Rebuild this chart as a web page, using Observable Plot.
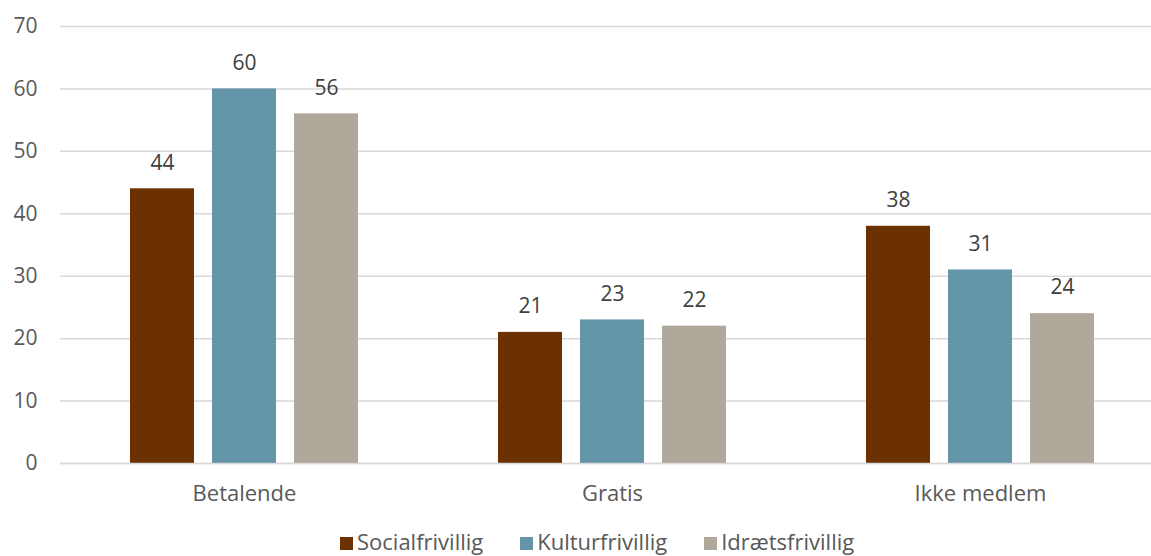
<!DOCTYPE html>
<html>
<head>
<meta charset="utf-8">
<script src="https://cdn.jsdelivr.net/npm/d3@7"></script>
<script src="https://cdn.jsdelivr.net/npm/@observablehq/plot@0.6"></script>
<style>
  html, body { margin: 0; padding: 0; background: #fff; overflow: hidden; width: 1151px; height: 556px; }
  #chart { position: absolute; left: 0; top: 0; width: 1165px; }
  #chart svg { max-width: none !important; }
  #legend { position: absolute; left: 340px; top: 528px; display: flex; gap: 37px; font-family: "Open Sans", sans-serif; font-size: 22px; color: #595959; line-height: 26px; }
  #legend .item { display: flex; align-items: center; gap: 4px; }
  #legend .sw { width: 13px; height: 13px; display: inline-block; margin-top: 5px; }
</style>
</head>
<body>
<div id="chart"></div>
<div id="legend"></div>
<script>
const categories = ["Betalende", "Gratis", "Ikke medlem"];
const series = ["Socialfrivillig", "Kulturfrivillig", "Idrætsfrivillig"];
const colors = ["#6B3100", "#6595A8", "#AFA89B"];
const socialValues = [44, 21, 38];
const kulturValues = [60, 23, 31];
const idraetValues = [56, 22, 24];
const yTicks = [0, 10, 20, 30, 40, 50, 60, 70];

const valuesBySeries = [socialValues, kulturValues, idraetValues];
const data = [];
categories.forEach((c, i) => {
  series.forEach((s, j) => data.push({category: c, series: s, value: valuesBySeries[j][i]}));
});

const font = "'Open Sans', sans-serif";
const chart = Plot.plot({
  width: 1165,
  height: 520,
  marginLeft: 59,
  marginRight: 0,
  marginTop: 26,
  marginBottom: 57,
  style: {fontFamily: font, fontSize: "20px", background: "white", maxWidth: "none"},
  fx: {domain: categories, padding: 0, label: null},
  x: {domain: series, paddingInner: 0.22, paddingOuter: 0.85, axis: null},
  y: {domain: [0, 70], ticks: yTicks},
  color: {domain: series, range: colors},
  marks: [
    Plot.gridY(yTicks, {stroke: "#d9d9d9", strokeOpacity: 1, strokeWidth: 1.5}),
    Plot.barY(data, {fx: "category", x: "series", y: "value", fill: "series"}),
    Plot.ruleY([0], {stroke: "#d9d9d9", strokeWidth: 1.5}),
    Plot.text(data, {fx: "category", x: "series", y: "value", text: d => String(d.value), dy: -26, fill: "#404040", fontSize: 21}),
    Plot.axisY(yTicks, {tickSize: 0, tickPadding: 23, fontSize: 21, color: "#595959", label: null}),
    Plot.axisFx({anchor: "bottom", tickSize: 0, tickPadding: 22, fontSize: 22, color: "#595959", label: null})
  ]
});
document.getElementById("chart").appendChild(chart);

const legend = document.getElementById("legend");
series.forEach((s, i) => {
  const item = document.createElement("div");
  item.className = "item";
  const sw = document.createElement("span");
  sw.className = "sw";
  sw.style.background = colors[i];
  const t = document.createElement("span");
  t.textContent = s;
  item.appendChild(sw);
  item.appendChild(t);
  legend.appendChild(item);
});
</script>
</body>
</html>
